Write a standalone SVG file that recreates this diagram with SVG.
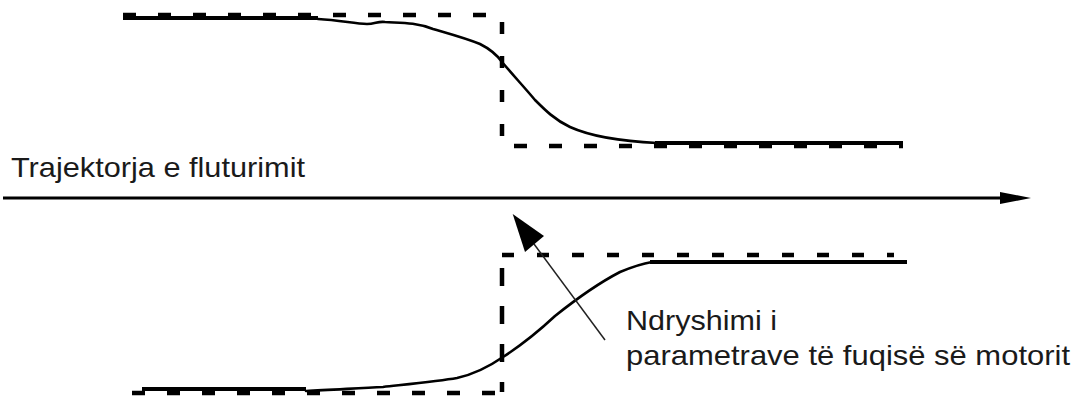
<svg xmlns="http://www.w3.org/2000/svg" width="1083" height="396" viewBox="0 0 1083 396">
<style>
.dash{stroke:#000;stroke-width:4.5;fill:none;stroke-dasharray:13 22}
.solid{stroke:#000;stroke-width:4;fill:none}
.curve{stroke:#000;stroke-width:2.6;fill:none;stroke-linecap:round}
.lbl{font-family:"Liberation Sans",Arial,sans-serif;font-size:28px;fill:#1a1a1a}
</style>
<rect width="1083" height="396" fill="#fff"/>
<g id="upper">
<line class="solid" x1="123" y1="18" x2="318" y2="18"/>
<line class="dash" x1="123" y1="15" x2="492" y2="15"/>
<line class="dash" x1="502" y1="22" x2="502" y2="145" style="stroke-dasharray:12 22"/>
<line class="dash" x1="514" y1="146" x2="903" y2="146"/>
<line class="solid" x1="655" y1="143" x2="903" y2="143"/>
<path class="curve" d="M318,19 C340,20 355,24 367,24 C375,24 378,21 385,22 C400,23 415,22 433,29 C450,34 465,38 480,44 C492,50 497,55 502,62 C512,74 525,88 535,100 C545,110 555,120 570,127 C590,136 615,141 657,143"/>
</g>
<g id="lower">
<line class="solid" x1="142" y1="389" x2="306" y2="389"/>
<line class="dash" x1="132" y1="393" x2="498" y2="393"/>
<line class="dash" x1="502" y1="268" x2="502" y2="392" style="stroke-dasharray:18 20"/>
<line class="dash" x1="502" y1="255" x2="894" y2="255" style="stroke-dasharray:12 23"/>
<line class="solid" x1="650" y1="262" x2="907" y2="262"/>
<path class="curve" d="M306,391 C330,390 360,388 383,387 C410,384 440,381 457,378 C475,374 490,366 503,357 C520,346 540,330 555,316 C575,300 595,285 620,272 C632,267 640,264 652,262"/>
</g>
<g id="connectors">
<line x1="3" y1="198" x2="1003" y2="198" stroke="#000" stroke-width="3"/>
<polygon points="1000,192 1031,198 1000,204" fill="#000"/>
<line x1="534" y1="244" x2="605" y2="340" stroke="#222" stroke-width="1.5"/>
<polygon points="512.7,214 525,252 544,236" fill="#000"/>
</g>
<g id="labels">
<text class="lbl" x="11" y="177" textLength="294" lengthAdjust="spacingAndGlyphs">Trajektorja e fluturimit</text>
<text class="lbl" x="626" y="330" textLength="151" lengthAdjust="spacingAndGlyphs">Ndryshimi i</text>
<text class="lbl" x="626" y="365" textLength="444" lengthAdjust="spacingAndGlyphs">parametrave të fuqisë së motorit</text>
</g>
</svg>
